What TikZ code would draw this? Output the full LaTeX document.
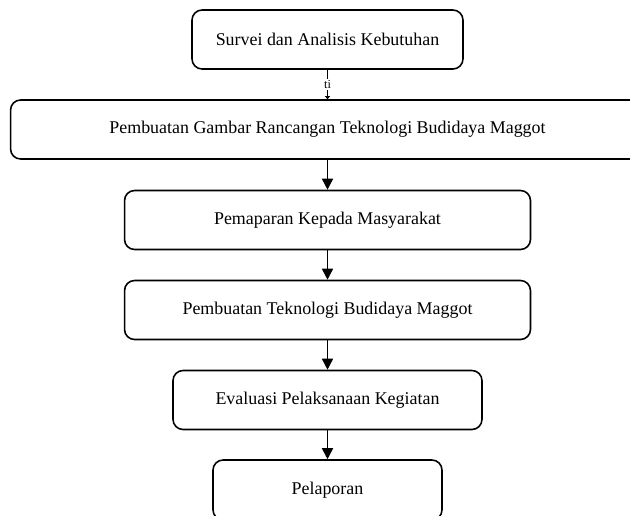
\documentclass[tikz,border=0pt]{standalone}
\usepackage{fontspec}
\setmainfont{Liberation Serif}
\usetikzlibrary{arrows.meta}
\begin{document}
\begin{tikzpicture}[x=0.02cm,y=-0.02cm,
    langkah/.style={draw,rounded corners=0.2cm,line width=0.9pt,minimum height=1.18cm,
      font=\fontsize{10.2}{12}\selectfont,inner sep=2pt},
    panah/.style={line width=0.9pt,-{Triangle[length=2.2mm,width=2.2mm]}}]
  \path[use as bounding box,clip] (0,0) rectangle (630,515);
  \path node[langkah,minimum width=5.42cm] (survei) at (327.5,39.5) {Survei dan Analisis Kebutuhan}
        node[langkah,minimum width=12.68cm] (gambar) at (327.5,129.5) {Pembuatan Gambar Rancangan Teknologi Budidaya Maggot}
        node[langkah,minimum width=8.12cm] (paparan) at (327.5,220) {Pemaparan Kepada Masyarakat}
        node[langkah,minimum width=8.12cm] (pembuatan) at (327.5,310) {Pembuatan Teknologi Budidaya Maggot}
        node[langkah,minimum width=6.18cm] (evaluasi) at (327.5,400) {Evaluasi Pelaksanaan Kegiatan}
        node[langkah,minimum width=4.58cm,minimum height=1.2cm] (lapor) at (327.5,490) {Pelaporan};
  \draw[line width=0.7pt,-{Triangle[length=0.6mm,width=1mm]}] (survei) -- node[fill=white,inner sep=0.5pt,font=\fontsize{7}{8}\selectfont] (ti) {ti} (gambar);
  \draw[panah] (gambar) -- (paparan);
  \draw[panah] (paparan) -- (pembuatan);
  \draw[panah] (pembuatan) -- (evaluasi);
  \draw[panah] (evaluasi) -- (lapor);
\end{tikzpicture}
\end{document}
